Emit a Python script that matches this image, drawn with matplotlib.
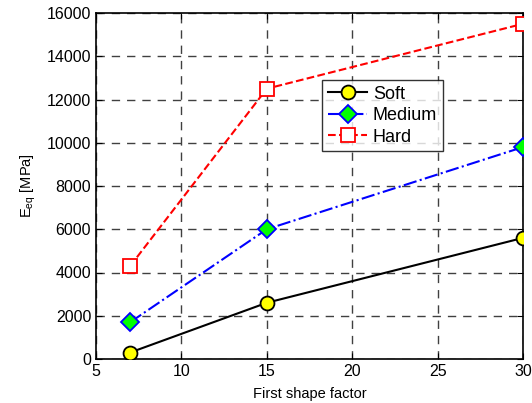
import matplotlib
matplotlib.use("Agg")
import matplotlib.pyplot as plt

plt.rcParams['font.family'] = ['Liberation Sans', 'DejaVu Sans']

shape_factor = [7, 15, 30]
soft = [300, 2600, 5600]
medium = [1700, 6000, 9800]
hard = [4300, 12500, 15500]

fig = plt.figure(figsize=(5.32, 4.03), dpi=100)
ax = fig.add_axes([96/532, 1 - 359/403, 427/532, 346/403])

ax.plot(shape_factor, soft, '-', color='black', lw=1.5, marker='o',
        ms=10, mfc='yellow', mec='black', mew=1.3, label='Soft', zorder=3)
ax.plot(shape_factor, medium, '-.', color='blue', lw=1.5, marker='D',
        ms=9, mfc='#00ff00', mec='blue', mew=1.3, label='Medium', zorder=3)
ax.plot(shape_factor, hard, '--', color='red', lw=1.5, marker='s',
        ms=10, mfc='white', mec='red', mew=1.3, label='Hard', zorder=3)

ax.set_xlim(5, 30)
ax.set_ylim(0, 16000)
ax.set_xticks([5, 10, 15, 20, 25, 30])
ax.set_yticks(range(0, 16001, 2000))
ax.grid(True, ls=(0, (6, 5)), color='#404040', lw=1)
ax.tick_params(direction='in', top=True, right=True, labelsize=11.5, length=4)
for s in ax.spines.values():
    s.set_linewidth(1.2)

ax.set_xlabel('First shape factor', fontsize=10.5, labelpad=6)
ax.set_ylabel(r'E$_{\mathregular{eq}}$ [MPa]', fontsize=10.5, labelpad=6)

leg = ax.legend(loc='upper left', bbox_to_anchor=(0.53, 0.806), fontsize=13,
                frameon=True, fancybox=False, edgecolor='black',
                handlelength=2.2, borderpad=0.3, labelspacing=0.25,
                handletextpad=0.3, borderaxespad=0)
leg.get_frame().set_linewidth(1)

fig.savefig('out.png', dpi=100)
